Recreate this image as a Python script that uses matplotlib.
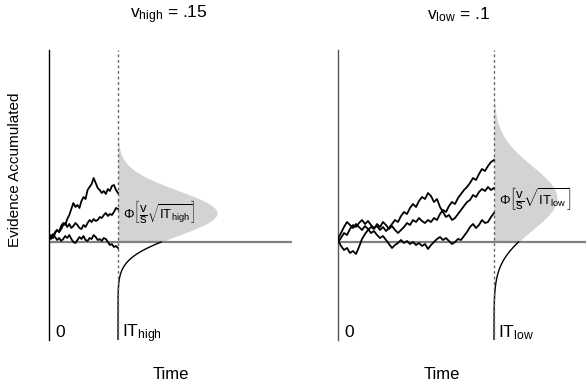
import numpy as np
import matplotlib
matplotlib.use("Agg")
import matplotlib.pyplot as plt

plt.rcParams['font.family'] = ['Liberation Sans', 'DejaVu Sans']
plt.rcParams['mathtext.fontset'] = 'custom'
plt.rcParams['mathtext.rm'] = 'Liberation Sans'
plt.rcParams['mathtext.it'] = 'Liberation Sans'
plt.rcParams['mathtext.bf'] = 'Liberation Sans:bold'

# Evidence paths (evidence units above the start point), sampled evenly from 0 to IT
high_paths = [
    [3, 7, 4, 10, 12, 10, 16, 19, 17, 23, 27, 33, 39, 35, 37, 34, 41, 45, 43, 52,
     55, 58, 64, 59, 54, 52, 49, 51, 48, 53, 51, 56, 57, 52, 49],
    [2, 6, 4, 9, 12, 10, 13, 17, 19, 15, 18, 14, 16, 19, 17, 14, 13, 17, 15, 19,
     22, 20, 23, 21, 22, 25, 24, 27, 29, 26, 28, 27, 30, 34, 33],
    [6, 3, 8, 5, 2, 4, 1, 3, 6, 4, 7, 3, 0, -1, 2, 5, 3, 6, 2, 1,
     4, 3, 7, 5, 2, 3, 1, 4, 3, 0, -3, -2, -5, -4, -6],
]
low_paths = [
    [0, 4, 9, 7, 13, 17, 15, 19, 22, 18, 21, 17, 14, 16, 12, 15, 11, 14, 18, 22,
     20, 26, 30, 28, 34, 38, 35, 41, 45, 43, 49, 46, 40, 43, 35, 30, 25, 27, 22, 24,
     28, 32, 36, 40, 42, 47, 45, 50, 53, 51, 55, 52, 54],
    [2, -4, -8, -6, -11, -9, -12, -5, 3, 8, 12, 15, 13, 18, 15, 20, 17, 13, 16, 12,
     9, 12, 15, 19, 17, 22, 20, 24, 21, 19, 22, 20, 24, 22, 28, 32, 30, 36, 40, 38,
     44, 48, 52, 55, 59, 64, 62, 68, 73, 71, 76, 80, 82],
    [3, 9, 15, 20, 17, 14, 18, 15, 12, 16, 13, 9, 11, 7, 4, 6, 2, -2, -6, -3,
     -1, 2, -1, 1, -2, 0, -3, -1, -4, -2, -7, -3, 0, 3, 5, 2, 4, 1, -2, 0,
     3, 2, 6, 10, 15, 18, 14, 17, 22, 19, 20, 25, 29],
]

# inspection time, x extent, mean / sd / peak width of the final-evidence density
it_high, tmax_high = 69, 243
it_low, tmax_low = 156, 248
mu_high, sd_high, peak_high = 29, 22.5, 99
mu_low, sd_low, peak_low = 44, 32, 63
ymin, ymax = -98, 192

W, H = 588, 387
fig = plt.figure(figsize=(W / 100, H / 100), dpi=100)

def panel(left_px, right_px, paths, it, tmax, mu, sd, peak, title, title_x, itlab,
          philab, phi_x, time_x, axis_color):
    ax = fig.add_axes([left_px / W, 1 - 340 / H, (right_px - left_px) / W, 290 / H])
    ax.set_xlim(0, tmax)
    ax.set_ylim(ymin, ymax)
    for s in ['top', 'right', 'bottom']:
        ax.spines[s].set_visible(False)
    ax.spines['left'].set_color(axis_color)
    ax.spines['left'].set_linewidth(1.0)
    ax.set_xticks([])
    ax.set_yticks([])
    ax.patch.set_alpha(0)

    y = np.linspace(0, ymax, 400)
    dens = peak * np.exp(-(y - mu) ** 2 / (2 * sd ** 2))
    ax.fill_betweenx(y, it, it + dens, color='#d3d3d3', lw=0, zorder=1)
    yb = np.linspace(ymin, 0, 300)
    densb = peak * np.exp(-(yb - mu) ** 2 / (2 * sd ** 2))
    ax.plot(it + densb, yb, color='black', lw=1.0, zorder=3)

    ax.axhline(0, color='#808080', lw=1.6, zorder=2)
    ax.axvline(it, color='#666666', lw=1.0, ls=(0, (2, 2)), zorder=4)

    for p in paths:
        t = np.linspace(0, it, len(p))
        ax.plot(t, p, color='black', lw=1.3, zorder=5)

    ax.text(phi_x, mu, philab, fontsize=9.5, va='center', ha='left', zorder=6)
    fig.text(title_x / W, 1 - 15 / H, title, fontsize=12.5, ha='center', va='center')
    ax.text(6, -95, '0', fontsize=12.5, va='baseline', ha='left')
    ax.text(it + 4, -95, itlab, fontsize=12.5, va='baseline', ha='left')
    ax.text(time_x, -0.12, 'Time', fontsize=12, transform=ax.transAxes,
            ha='center', va='center')
    return ax

ax1 = panel(49, 292, high_paths, it_high, tmax_high, mu_high, sd_high, peak_high,
            r'v$_{\mathrm{high}}$ = .15', 169, r'IT$_{\mathrm{high}}$',
            r'$\Phi\left[\dfrac{v}{s}\sqrt{\mathrm{IT}_{\mathrm{high}}}\right]$',
            it_high + 5, 0.5, 'black')
ax2 = panel(338, 586, low_paths, it_low, tmax_low, mu_low, sd_low, peak_low,
            r'v$_{\mathrm{low}}$ = .1', 459, r'IT$_{\mathrm{low}}$',
            r'$\Phi\left[\dfrac{v}{s}\sqrt{\mathrm{IT}_{\mathrm{low}}}\right]$',
            it_low + 5, 0.42, '#555555')

fig.text(15 / W, 1 - 170 / H, 'Evidence Accumulated', rotation=90, fontsize=11,
         ha='center', va='center')

fig.savefig('out.png', dpi=100)
